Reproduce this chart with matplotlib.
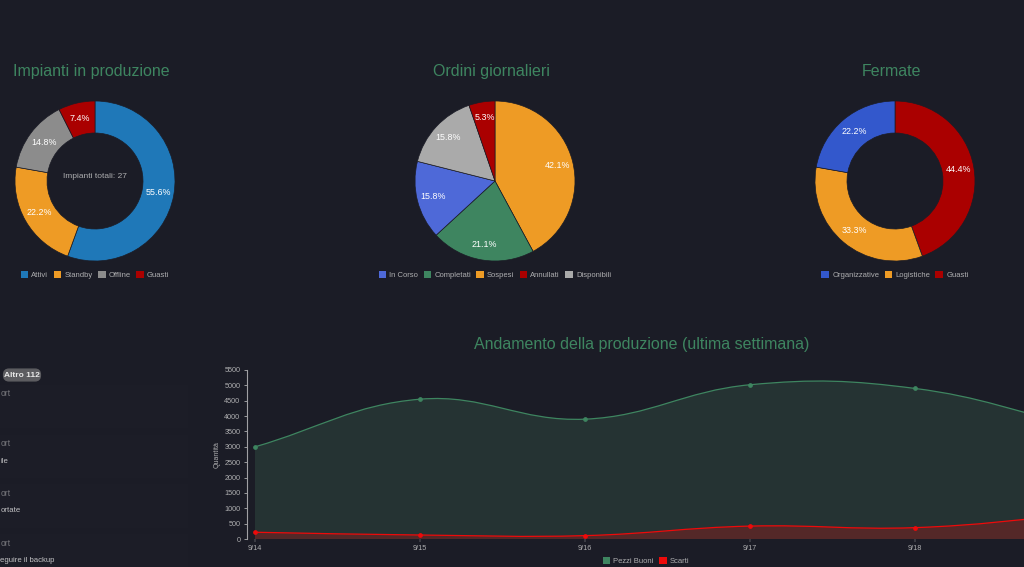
import numpy as np
import matplotlib
matplotlib.use("Agg")
import matplotlib.pyplot as plt
from matplotlib.patches import Patch, PathPatch, Rectangle, FancyBboxPatch
from matplotlib.path import Path

plt.rcParams['font.family'] = ['Liberation Sans', 'DejaVu Sans']

W, H = 1024, 567
BG = '#1b1c26'
CARD = '#1c1d27'
TITLE = '#3e8560'
MUTED = '#aeaeb0'

pie1_labels = ['Attivi', 'Standby', 'Offline', 'Guasti']
pie1_values = [15, 6, 4, 2]
pie1_colors = ['#1f78b8', '#ee9b25', '#8c8c8c', '#aa0000']
pie1_order = [0, 1, 2, 3]

pie2_labels = ['In Corso', 'Completati', 'Sospesi', 'Annullati', 'Disponibili']
pie2_values = [3, 4, 8, 1, 3]
pie2_colors = ['#4e69d8', '#3e8560', '#ee9b25', '#aa0000', '#aaaaaa']
pie2_order = [2, 1, 0, 4, 3]

pie3_labels = ['Organizzative', 'Logistiche', 'Guasti']
pie3_values = [2, 3, 4]
pie3_colors = ['#3358cc', '#ee9b25', '#aa0000']
pie3_order = [2, 1, 0]

days = ['9/14', '9/15', '9/16', '9/17', '9/18', '9/19']
good = [3000, 4550, 3900, 5020, 4900, 3650]
scrap = [220, 130, 110, 420, 370, 800]
y_ticks = list(range(0, 6000, 500))

fig = plt.figure(figsize=(W / 100, H / 100), dpi=100, facecolor=BG)


def box(l, t, r, b):
    return [l / W, 1 - b / H, (r - l) / W, (b - t) / H]


def donut(cx, title, labels, values, colors, order, hole):
    ax = fig.add_axes(box(cx - 80, 101, cx + 80, 261))
    vals = [values[i] for i in order]
    cols = [colors[i] for i in order]
    wp = dict(edgecolor=BG, linewidth=0.5)
    if hole:
        wp['width'] = 0.4
    ax.pie(vals, colors=cols, startangle=90, counterclock=False,
           wedgeprops=wp, autopct='%.1f%%', pctdistance=0.8,
           radius=1.0, textprops=dict(color='white', fontsize=6.4))
    ax.set_xlim(-1, 1)
    ax.set_ylim(-1, 1)
    fig.text((cx - 3.5) / W, 1 - 71.5 / H, title, color=TITLE, fontsize=11.5,
             ha='center', va='center')
    handles = [Patch(facecolor=c, label=l) for c, l in zip(colors, labels)]
    fig.legend(handles=handles, loc='center', bbox_to_anchor=(cx / W, 1 - 275 / H),
               ncol=len(labels), frameon=False, fontsize=5.5, labelcolor=MUTED,
               handlelength=1.0, handleheight=1.0, handletextpad=0.4,
               columnspacing=0.7, borderpad=0, borderaxespad=0)
    return ax


a1 = donut(95, 'Impianti in produzione', pie1_labels, pie1_values, pie1_colors, pie1_order, True)
a1.text(0, 0.05, 'Impianti totali: 27', color=MUTED, fontsize=6, ha='center', va='center')
donut(495, 'Ordini giornalieri', pie2_labels, pie2_values, pie2_colors, pie2_order, False)
donut(895, 'Fermate', pie3_labels, pie3_values, pie3_colors, pie3_order, True)

# left panel (clipped by the page edge)
panel = fig.add_axes([0, 0, 1, 1], zorder=-1)
panel.set_xlim(0, W)
panel.set_ylim(H, 0)
panel.axis('off')
for top, bottom in [(385, 428), (435, 478), (484, 528), (534, 575)]:
    panel.add_patch(Rectangle((-5, top), 193, bottom - top, facecolor=CARD, edgecolor='none'))
panel.add_patch(FancyBboxPatch((5, 370.5), 34, 9, boxstyle='round,pad=0,rounding_size=4',
                               facecolor='#5c5c60', edgecolor='#5c5c60', linewidth=3))
panel.text(22, 375.5, 'Altro 112', color='#e8e8e8', fontsize=6, fontweight='bold', ha='center', va='center')
for y in (393.5, 443.5, 493, 543):
    panel.text(0.5, y, 'ort', color='#77777c', fontsize=6.2, ha='left', va='center')
for x, y, s in [(0.5, 461.5, 'ile'), (0.5, 510.5, 'ortate'), (0.5, 560.5, 'eguire il backup')]:
    panel.text(x, y, s, color='#c2c2c4', fontsize=5.6, ha='left', va='center')

# line chart: index 0 sits at pixel 255, one step is 165 pixels
L, R, T, B = 246.7, 1024, 370, 539
STEP = 165
ax = fig.add_axes(box(L, T, R, B))
ax.set_facecolor('none')


def spline(values, tension=0.4):
    xs = np.arange(len(values), dtype=float)
    ys = np.asarray(values, dtype=float)
    sx, sy = STEP, (B - T) / 5500
    verts = [(xs[0], ys[0])]
    codes = [Path.MOVETO]
    n = len(xs)
    before, after = [None] * n, [None] * n
    for i in range(n):
        p = max(i - 1, 0)
        q = min(i + 1, n - 1)
        d1 = np.hypot((xs[i] - xs[p]) * sx, (ys[i] - ys[p]) * sy)
        d2 = np.hypot((xs[q] - xs[i]) * sx, (ys[q] - ys[i]) * sy)
        fa = tension * d1 / (d1 + d2)
        fb = tension * d2 / (d1 + d2)
        before[i] = (xs[i] - fa * (xs[q] - xs[p]), ys[i] - fa * (ys[q] - ys[p]))
        after[i] = (xs[i] + fb * (xs[q] - xs[p]), ys[i] + fb * (ys[q] - ys[p]))
    for i in range(n - 1):
        verts += [after[i], before[i + 1], (xs[i + 1], ys[i + 1])]
        codes += [Path.CURVE4] * 3
    return verts, codes, xs


def series(values, color, fill):
    verts, codes, xs = spline(values)
    area = Path(verts + [(xs[-1], 0), (xs[0], 0), (xs[0], 0)],
                codes + [Path.LINETO, Path.LINETO, Path.CLOSEPOLY])
    ax.add_patch(PathPatch(area, facecolor=fill, edgecolor='none'))
    ax.add_patch(PathPatch(Path(verts, codes), facecolor='none', edgecolor=color, linewidth=0.9))
    ax.plot(xs, values, 'o', color=color, markersize=2.4, linestyle='none')


series(good, TITLE, '#253333')
series(scrap, '#ee0a0a', '#542828')

ax.set_xticks(range(len(days)))
ax.set_xticklabels(days)
ax.set_yticks(y_ticks)
ax.set_xlim((L - 255) / STEP, (R - 255) / STEP)
ax.set_ylim(0, 5500)
ax.tick_params(axis='both', colors=MUTED, labelsize=5.2, length=2.5, width=0.6, pad=2)
ax.tick_params(axis='x', width=0.3, length=2, pad=2)
for s in ('top', 'right', 'bottom'):
    ax.spines[s].set_visible(False)
ax.spines['left'].set_color('#a0a0a4')
ax.spines['left'].set_linewidth(0.8)
ax.set_ylabel('Quantità', color=MUTED, fontsize=5, labelpad=3)

fig.text(641.5 / W, 1 - 344 / H, 'Andamento della produzione (ultima settimana)',
         color=TITLE, fontsize=11.5, ha='center', va='center')
handles = [Patch(facecolor=TITLE, label='Pezzi Buoni'), Patch(facecolor='#ee0a0a', label='Scarti')]
fig.legend(handles=handles, loc='center', bbox_to_anchor=(646 / W, 1 - 560.7 / H), ncol=2,
           frameon=False, fontsize=5.5, labelcolor=MUTED, handlelength=1.0, handleheight=1.0,
           handletextpad=0.4, columnspacing=0.7, borderpad=0, borderaxespad=0)

fig.savefig('out.png', dpi=100, facecolor=BG)
